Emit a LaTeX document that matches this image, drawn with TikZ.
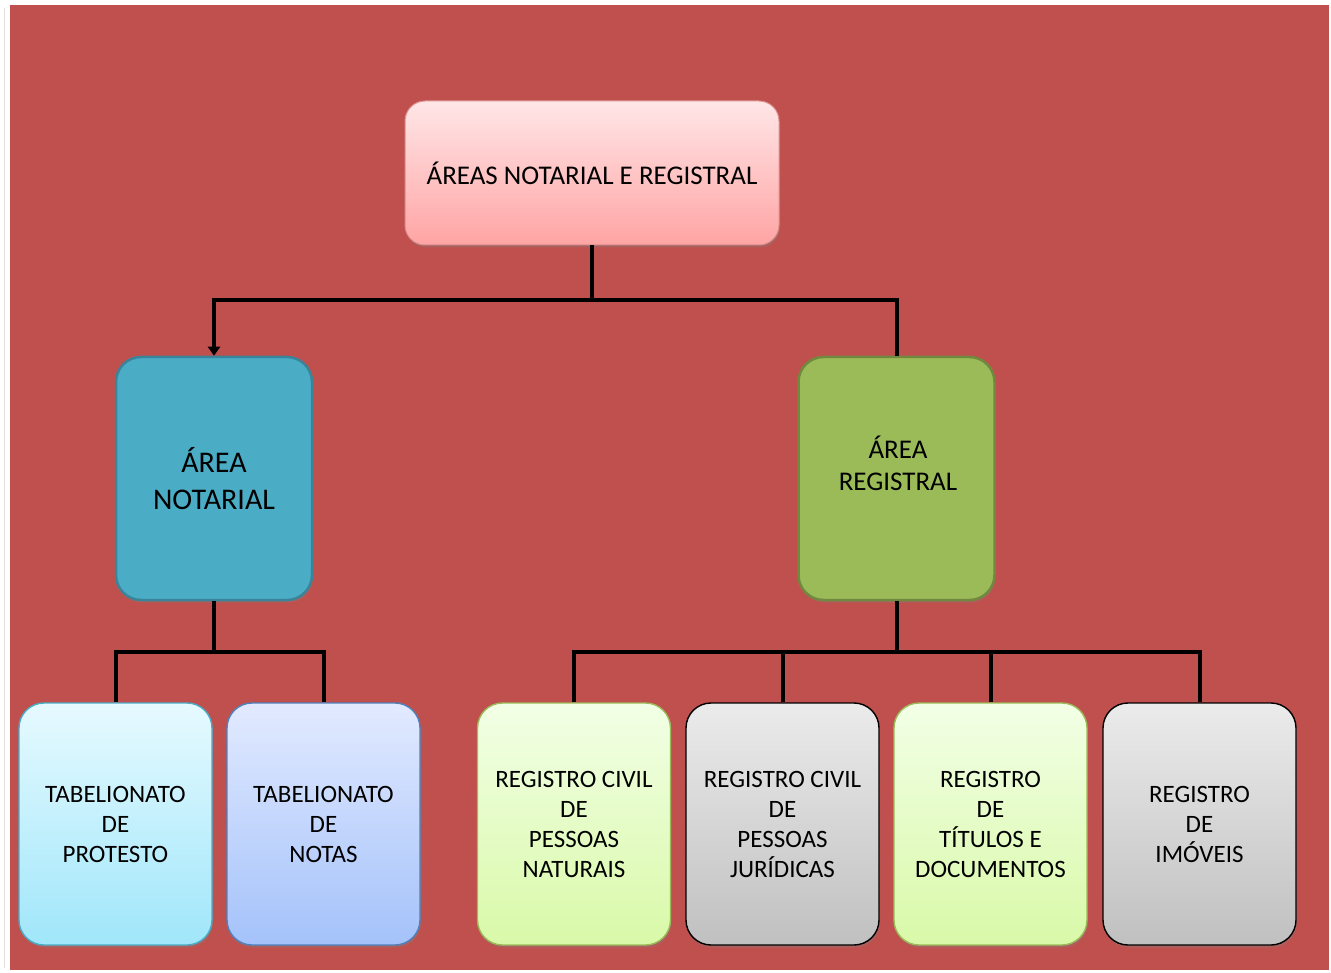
\documentclass[tikz,border=0pt]{standalone}
\usepackage{fontspec}
\setmainfont{Carlito}
\usetikzlibrary{shadows,arrows.meta}
\definecolor{bgred}{HTML}{C0504D}
\definecolor{pinkT}{HTML}{FFE6E7}
\definecolor{pinkB}{HTML}{FFA4A4}
\definecolor{pinkD}{HTML}{D9908E}
\definecolor{notF}{HTML}{4BACC6}
\definecolor{notD}{HTML}{3A849A}
\definecolor{regF}{HTML}{9BBB59}
\definecolor{regD}{HTML}{71893F}
\definecolor{cyT}{HTML}{E6FAFF}
\definecolor{cyB}{HTML}{A0E6FA}
\definecolor{blT}{HTML}{E2EAFF}
\definecolor{blB}{HTML}{A4C2FA}
\definecolor{blD}{HTML}{4F81BD}
\definecolor{grT}{HTML}{F2FFE6}
\definecolor{grB}{HTML}{D9F9A8}
\definecolor{gyT}{HTML}{EBEBEB}
\definecolor{gyB}{HTML}{C0C0C0}
\tikzset{
  box/.style={rectangle, rounded corners=25pt, inner sep=0pt, align=center,
    drop shadow={opacity=0.35, shadow xshift=1pt, shadow yshift=-2.5pt}},
  mainbox/.style={box, rounded corners=20pt, minimum width=374pt, minimum height=144pt,
    top color=pinkT, bottom color=pinkB, draw=pinkD, line width=1pt,
    font=\fontsize{27}{30}\selectfont},
  midbox/.style={box, minimum width=196pt, minimum height=243pt, line width=2.5pt},
  leaf/.style={box, minimum width=193pt, minimum height=242pt, line width=1.4pt,
    font=\fontsize{25}{30}\selectfont},
  conn/.style={draw=black, line width=4pt},
  arr/.style={conn, -{Triangle[width=12pt,length=9pt]}}
}
\begin{document}
\begin{tikzpicture}[x=1pt,y=-1pt]
\useasboundingbox (0,0) rectangle (1331,973);
\fill[white] (0,0) rectangle (1331,973);
\draw[black!12, line width=1.5pt] (4.5,8) -- (4.5,968);
\fill[bgred] (10,5) rectangle (1329,970);

\node[mainbox] (top) at (592,173) {ÁREAS NOTARIAL E REGISTRAL};

\node[midbox, fill=notF, draw=notD, font=\fontsize{30}{37}\selectfont] (not) at (214,478.5) {ÁREA\\NOTARIAL};
\node[midbox, fill=regF, draw=regD] (reg) at (896.5,478.5) {};
\node[font=\fontsize{27}{32}\selectfont, align=center, inner sep=0pt] (regtext) at (898,463) {ÁREA\\REGISTRAL};

\node[leaf, top color=cyT, bottom color=cyB, draw=notF] (prot) at (115.5,824) {TABELIONATO\\DE\\PROTESTO};
\node[leaf, top color=blT, bottom color=blB, draw=blD] (notas) at (323.5,824) {TABELIONATO\\DE\\NOTAS};
\node[leaf, top color=grT, bottom color=grB, draw=regF] (pn) at (574,824) {REGISTRO CIVIL\\DE\\PESSOAS\\NATURAIS};
\node[leaf, top color=gyT, bottom color=gyB, draw=black] (pj) at (782.5,824) {REGISTRO CIVIL\\DE\\PESSOAS\\JURÍDICAS};
\node[leaf, top color=grT, bottom color=grB, draw=regF] (td) at (990.5,824) {REGISTRO\\DE\\TÍTULOS E\\DOCUMENTOS};
\node[leaf, top color=gyT, bottom color=gyB, draw=black] (im) at (1199.5,824) {REGISTRO\\DE\\IMÓVEIS};

% connectors
\draw[arr] (top.south) -- ++(0,55) -| (not.north);
\draw[conn] (top.south) -- ++(0,55) -| (reg.north);

\draw[conn] (not.south) -- ++(0,51) -| (prot.north);
\draw[conn] (not.south) -- ++(0,51) -| (notas.north);

\draw[conn] (reg.south) -- ++(0,51) -| (pn.north);
\draw[conn] (reg.south) -- ++(0,51) -| (pj.north);
\draw[conn] (reg.south) -- ++(0,51) -| (td.north);
\draw[conn] (reg.south) -- ++(0,51) -| (im.north);
\end{tikzpicture}
\end{document}
